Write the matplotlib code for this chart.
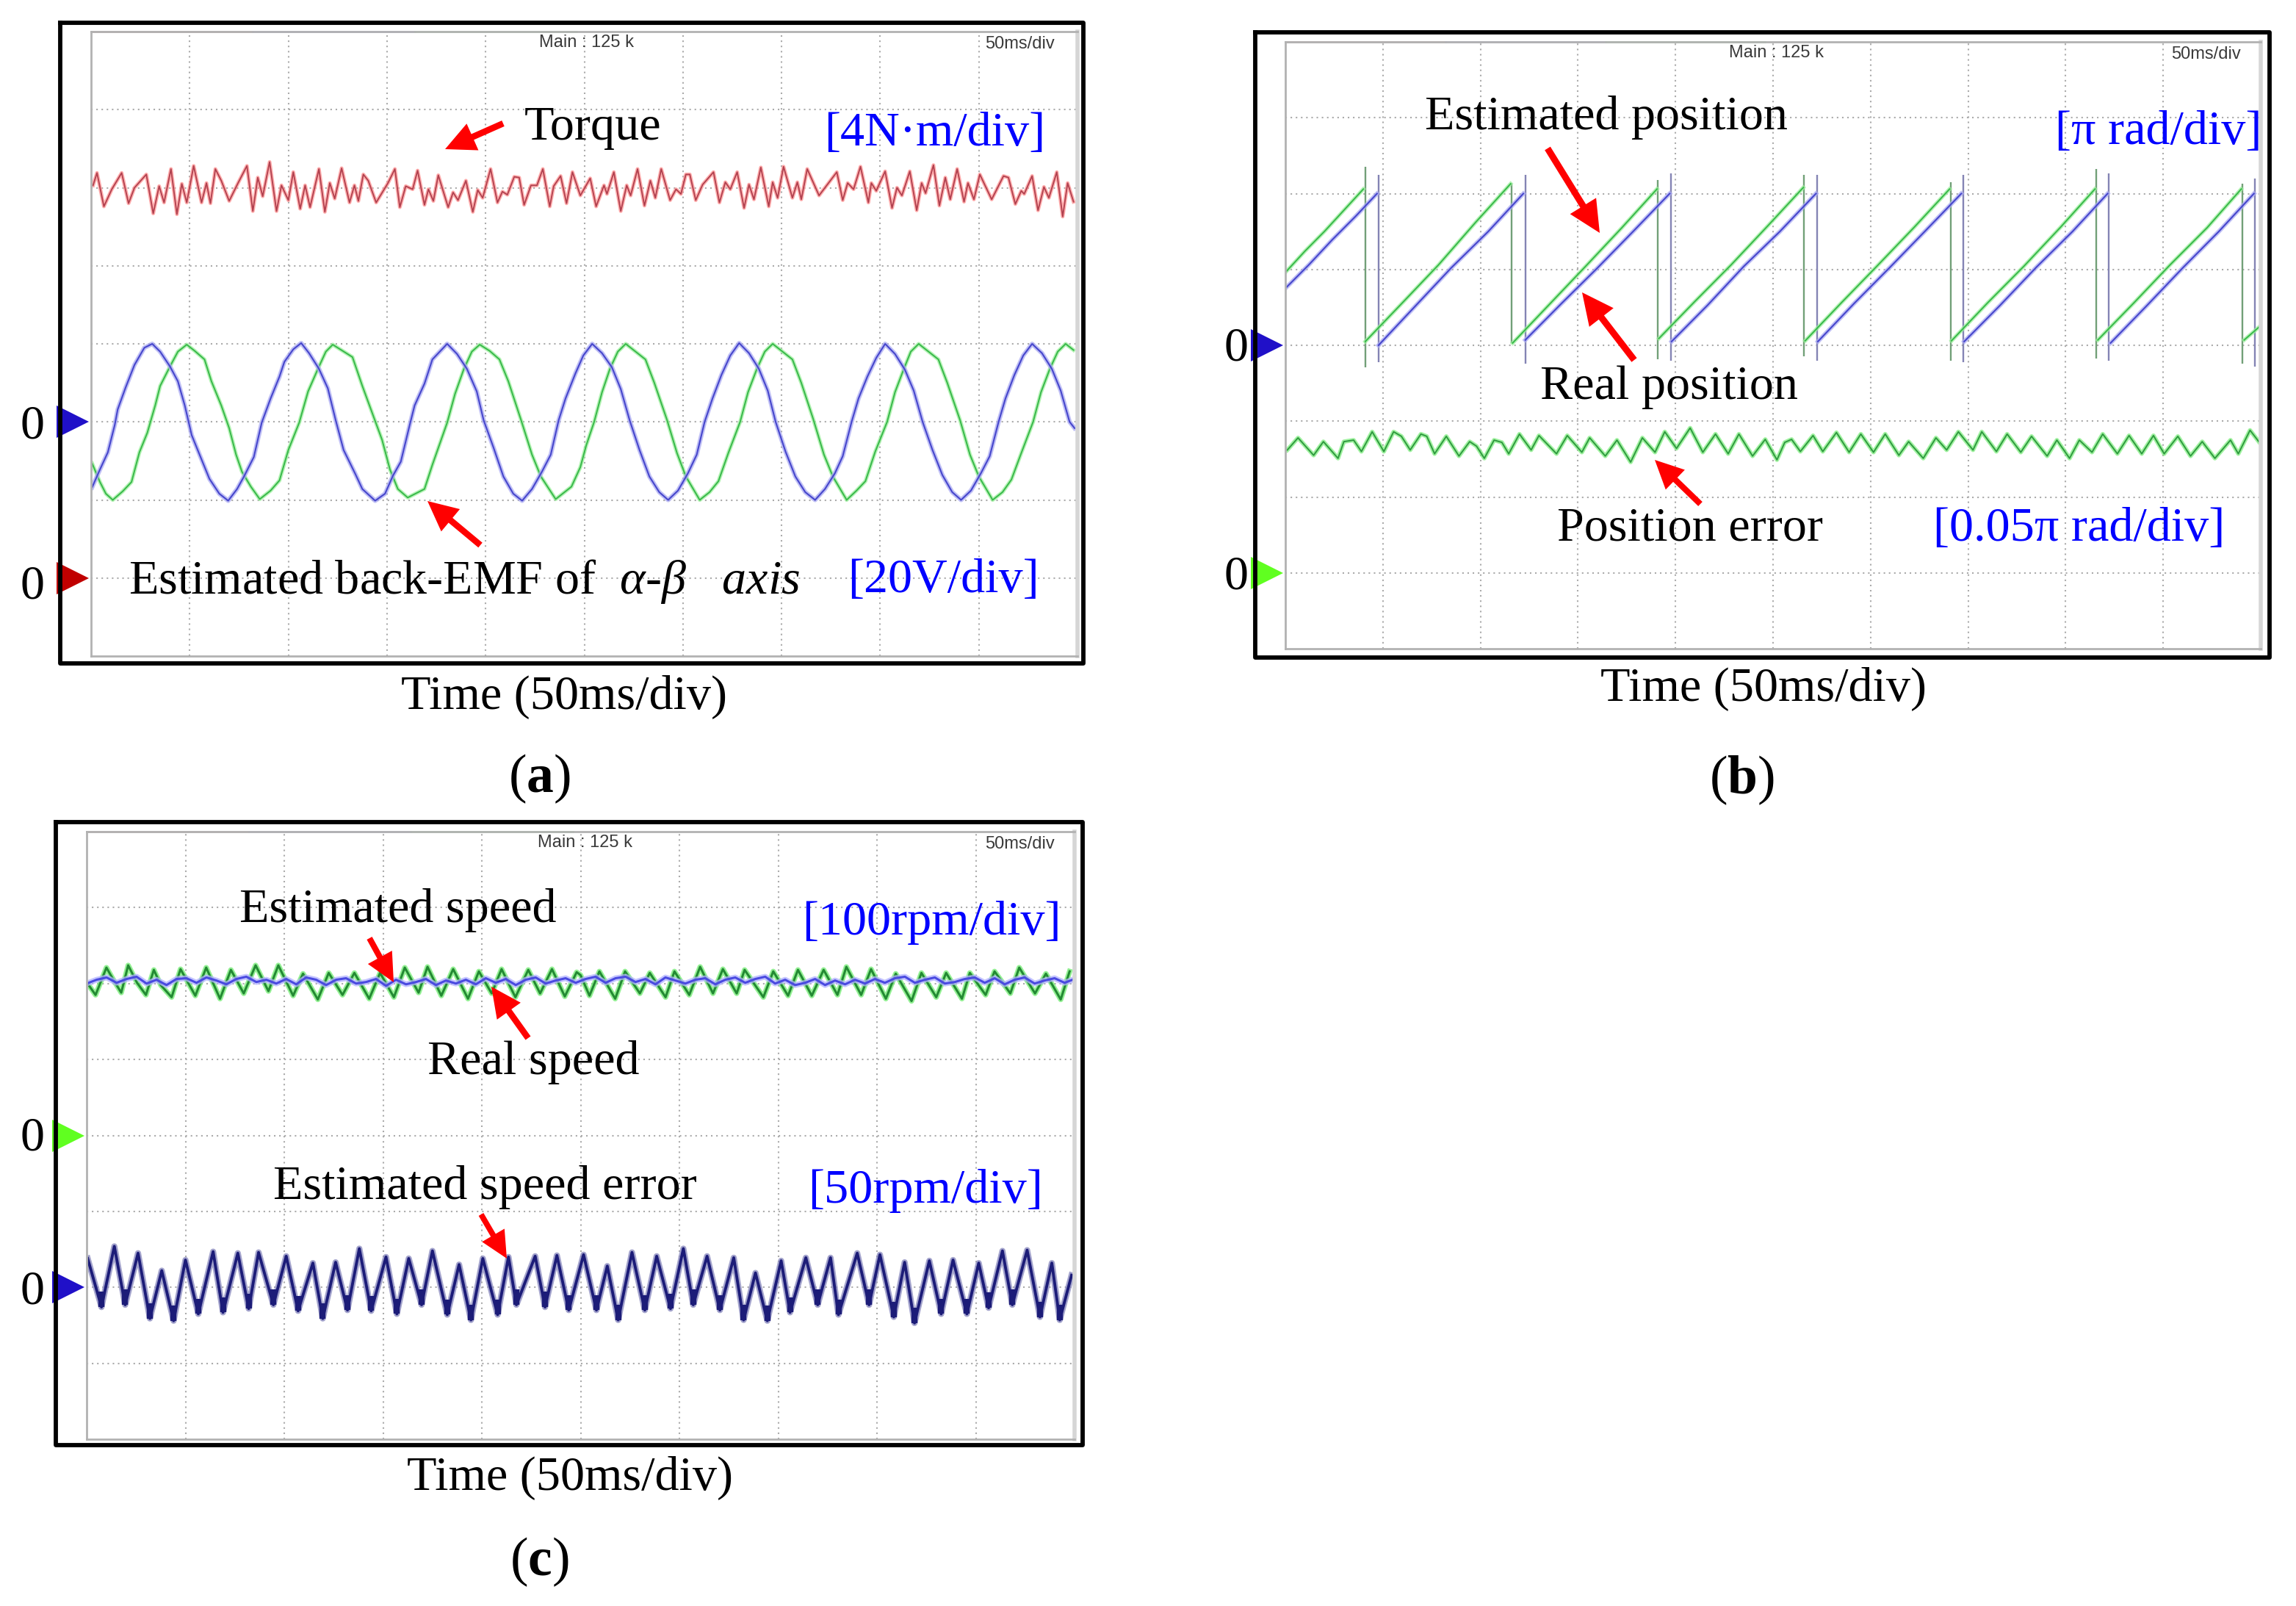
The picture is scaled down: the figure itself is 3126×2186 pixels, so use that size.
import numpy as np
import matplotlib
matplotlib.use('Agg')
import matplotlib.pyplot as plt

plt.rcParams['font.family'] = ['Liberation Serif', 'DejaVu Serif']
plt.rcParams['mathtext.fontset'] = 'custom'
plt.rcParams['mathtext.rm'] = 'Liberation Serif'
plt.rcParams['mathtext.it'] = 'Liberation Serif:italic'
plt.rcParams['mathtext.bf'] = 'Liberation Serif:bold'

W, H = 3126, 2186

# all traces read off the scope screens: t and levels in divisions
# panel a - torque (offset from its level)
torque_level = 6.0
torque_t = [0.02, 0.06, 0.13, 0.21, 0.31, 0.38, 0.44, 0.56, 0.63, 0.69, 0.74, 0.81, 0.87, 0.92, 0.97, 1.04, 1.12, 1.17, 1.21, 1.26,
            1.32, 1.40, 1.49, 1.58, 1.64, 1.69, 1.74, 1.81, 1.88, 1.93, 2.00, 2.05, 2.12, 2.17, 2.22, 2.31, 2.37, 2.42, 2.47, 2.54,
            2.62, 2.67, 2.71, 2.76, 2.81, 2.89, 3.01, 3.08, 3.13, 3.19, 3.26, 3.31, 3.38, 3.42, 3.47, 3.52, 3.62, 3.67, 3.72, 3.80,
            3.87, 3.92, 3.97, 4.05, 4.12, 4.17, 4.22, 4.29, 4.34, 4.39, 4.46, 4.52, 4.58, 4.65, 4.69, 4.76, 4.82, 4.88, 4.96,
            5.06, 5.12, 5.20, 5.23, 5.30, 5.37, 5.43, 5.47, 5.54, 5.61, 5.67, 5.72, 5.78, 5.87, 5.93, 5.98, 6.03, 6.07, 6.13, 6.20,
            6.31, 6.37, 6.43, 6.48, 6.55, 6.62, 6.67, 6.72, 6.79, 6.87, 6.91, 6.96, 7.02, 7.11, 7.16, 7.20, 7.26, 7.38, 7.44, 7.56,
            7.62, 7.67, 7.73, 7.80, 7.88, 7.91, 7.96, 8.05, 8.12, 8.17, 8.22, 8.30, 8.37, 8.42, 8.46, 8.54, 8.60, 8.66, 8.71, 8.78,
            8.85, 8.89, 8.95, 9.01, 9.13, 9.17, 9.25, 9.30, 9.37, 9.43, 9.46, 9.54, 9.60, 9.66, 9.71, 9.79, 9.85, 9.90, 9.96]
torque_v = [.03, .19, -.24, -.02, .19, -.20, 0, .17, -.33, .02, -.19, .24, -.34, .05, -.19, .28, -.19, .06, -.20, .24,
            .09, -.17, .06, .28, -.30, .13, -.11, .33, -.30, .03, -.16, .20, -.27, .03, -.25, .24, -.31, .06, -.14, .25,
            -.19, .03, -.17, .17, .09, -.19, .06, .24, -.25, .02, -.02, .22, -.22, -.02, -.17, .16, -.25, -.06, -.16, .09,
            -.31, -.03, -.13, .24, -.19, -.05, -.09, .14, .13, -.22, .03, .03, .24, -.24, .02, .15, -.20, .20, -.10,
            .12, -.24, .03, -.08, .20, -.30, .03, -.10, .24, -.23, .09, -.13, .24, -.16, -.02, -.08, .17, .17, -.16, .04,
            .20, -.19, .07, -.02, .20, -.26, .04, -.15, .26, -.24, .07, -.13, .27, -.13, .07, -.15, .24, -.10, 0, .20,
            -.16, .06, -.02, .27, -.19, .06, -.04, .21, -.26, 0, -.10, .21, -.29, .06, -.07, .29, -.23, .13, -.15, .24,
            -.18, .06, -.15, .17, -.15, -.05, .15, .13, -.21, -.04, -.08, .15, -.29, .01, -.13, .20, -.37, .06, -.18]

# panel a - back-EMF alpha / beta (offset from their zero at 3 div)
emf_level = 3.0
emf_a_t = [.01, .09, .17, .24, .27, .35, .44, .54, .62, .70, .80, .88, .95, 1.02, 1.10, 1.20, 1.30, 1.39, 1.48, 1.55,
           1.65, 1.73, 1.82, 1.91, 1.96, 2.05, 2.13, 2.21, 2.31, 2.40, 2.48, 2.56, 2.68, 2.75, 2.88, 2.98, 3.06, 3.14, 3.23, 3.28,
           3.38, 3.46, 3.61, 3.71, 3.81, 3.91, 3.98, 4.08, 4.18, 4.28, 4.37, 4.47, 4.57, 4.66, 4.74, 4.81, 4.91, 4.99,
           5.08, 5.18, 5.28, 5.37, 5.46, 5.56, 5.66, 5.76, 5.85, 5.95, 6.05, 6.14, 6.22, 6.30, 6.39, 6.48, 6.57, 6.67, 6.77, 6.86,
           6.94, 7.04, 7.14, 7.24, 7.34, 7.44, 7.54, 7.62, 7.71, 7.78, 7.87, 7.96, 8.05, 8.15, 8.25, 8.34, 8.43, 8.53, 8.63, 8.73,
           8.82, 8.92, 9.02, 9.11, 9.20, 9.27, 9.36, 9.45, 9.54, 9.64, 9.74, 9.83, 9.92, 9.97]
emf_a_v = [-.84, -.61, -.39, -.04, .16, .44, .73, .95, 1.0, .90, .71, .52, .21, -.17, -.42, -.73, -.92, -1.01, -.86, -.70,
           -.45, -.01, .30, .58, .77, .93, 1.01, .88, .68, .43, .02, -.36, -.67, -.86, -1.01, -.92, -.69, -.51, -.04, .21,
           .49, .80, 1.0, .87, .68, .39, .02, -.33, -.70, -.92, -1.01, -.86, -.64, -.42, .02, .30, .62, .85,
           1.0, .88, .70, .42, .02, -.36, -.70, -.90, -1.0, -.88, -.66, -.42, 0, .30, .60, .85, 1.01, .88, .68, .40,
           0, -.38, -.70, -.90, -1.0, -.86, -.66, -.44, 0, .30, .58, .82, 1.0, .87, .67, .40, 0, -.36, -.68, -.90,
           -1.0, -.88, -.66, -.44, 0, .30, .60, .85, 1.0, .88, .68, .40, 0, -.08]
emf_b_t = [.01, .09, .15, .22, .32, .41, .49, .57, .65, .70, .80, .88, .97, 1.05, 1.15, 1.22, 1.32, 1.40, 1.47, 1.53,
           1.62, 1.71, 1.82, 1.91, 2.0, 2.11, 2.20, 2.30, 2.38, 2.45, 2.55, 2.65, 2.75, 2.86, 2.95, 3.03, 3.11, 3.21, 3.38, 3.46,
           3.61, 3.69, 3.78, 3.86, 3.94, 4.04, 4.14, 4.23, 4.36, 4.47, 4.56, 4.71, 4.87, 4.96, 5.02,
           5.10, 5.18, 5.26, 5.34, 5.42, 5.52, 5.62, 5.71, 5.84, 5.94, 6.03, 6.17, 6.27, 6.36, 6.46, 6.58, 6.66, 6.75, 6.83, 6.91,
           7.01, 7.11, 7.20, 7.32, 7.43, 7.52, 7.66, 7.76, 7.85, 7.95, 8.07, 8.15, 8.24, 8.31, 8.39, 8.49, 8.59, 8.68, 8.81, 8.91,
           9.0, 9.14, 9.24, 9.33, 9.43, 9.55, 9.63, 9.72, 9.80, 9.88, 9.96]
emf_b_v = [-.53, -.77, -.92, -1.0, -.89, -.77, -.39, -.14, .21, .46, .71, .90, .99, .91, .80, .52, .21, -.08, -.42, -.64,
           -.83, -.99, -.88, -.75, -.36, -.01, .39, .68, .90, .99, .91, .83, .46, .08, -.23, -.61, -.86, -.97, -.86, -.55,
           -.01, .36, .68, .90, .99, .91, .80, .52, .02, -.42, -.70, -.99, -.83, -.58, -.30,
           0, .38, .68, .90, 1.0, .90, .80, .50, .02, -.40, -.70, -1.0, -.90, -.76, -.40, 0, .38, .68, .90, 1.0,
           .90, .80, .50, .04, -.42, -.70, -1.0, -.88, -.76, -.38, 0, .38, .68, .90, 1.0, .90, .80, .50, .02, -.42,
           -.70, -1.0, -.90, -.74, -.40, 0, .38, .68, .90, 1.0, .92]

# panel b - sawtooth positions, nan splits the teeth
pos_real_t = [0, .24, .48, .72, .94, np.nan,
              .955, 1.32, 1.70, 2.08, 2.44, np.nan,
              2.46, 2.83, 3.20, 3.58, 3.94, np.nan,
              3.96, 4.33, 4.70, 5.07, 5.44, np.nan,
              5.46, 5.83, 6.20, 6.57, 6.93, np.nan,
              6.96, 7.33, 7.70, 8.07, 8.43, np.nan,
              8.46, 8.83, 9.20, 9.57, 9.93]
pos_real_v = [4.75, 5.06, 5.39, 5.70, 6.0, np.nan,
              4.0, 4.50, 5.02, 5.50, 6.0, np.nan,
              4.07, 4.55, 5.02, 5.52, 6.0, np.nan,
              4.05, 4.53, 5.04, 5.50, 6.0, np.nan,
              4.05, 4.55, 5.03, 5.52, 6.0, np.nan,
              4.05, 4.53, 5.03, 5.50, 6.0, np.nan,
              4.03, 4.52, 5.02, 5.50, 6.0]
pos_est_t = [0, .20, .40, .60, .80, np.nan,
             .82, 1.20, 1.57, 1.95, 2.31, np.nan,
             2.33, 2.70, 3.07, 3.45, 3.81, np.nan,
             3.83, 4.20, 4.57, 4.95, 5.31, np.nan,
             5.33, 5.70, 6.07, 6.45, 6.81, np.nan,
             6.83, 7.20, 7.57, 7.95, 8.30, np.nan,
             8.33, 8.70, 9.07, 9.45, 9.80, np.nan,
             9.83, 10.0]
pos_est_v = [4.96, 5.24, 5.50, 5.78, 6.06, np.nan,
             4.05, 4.56, 5.06, 5.62, 6.13, np.nan,
             4.03, 4.53, 5.03, 5.55, 6.06, np.nan,
             4.09, 4.58, 5.06, 5.58, 6.08, np.nan,
             4.06, 4.56, 5.05, 5.56, 6.06, np.nan,
             4.06, 4.56, 5.04, 5.56, 6.06, np.nan,
             4.07, 4.56, 5.06, 5.55, 6.06, np.nan,
             4.07, 4.26]

# panel b - reset spikes: time, top, bottom
spike_est_t = [.82, 2.32, 3.82, 5.32, 6.82, 8.31, 9.81]
spike_est_top = [6.35, 6.13, 6.18, 6.25, 6.15, 6.32, 6.13]
spike_est_bot = [3.71, 4.03, 3.82, 3.85, 3.80, 3.83, 3.76]
spike_real_t = [.955, 2.46, 3.95, 5.45, 6.95, 8.44, 9.94]
spike_real_top = [6.25, 6.25, 6.27, 6.25, 6.25, 6.27, 6.20]
spike_real_bot = [3.78, 3.76, 3.80, 3.80, 3.78, 3.80, 3.72]

# panel b - position error
pos_err_level = 2.7
pos_err_t = [.02, .13, .29, .39, .54, .60, .70, .78, .89, 1.01, 1.11, 1.19, 1.28, 1.39, 1.45, 1.53, 1.65, 1.78, 1.89, 1.96,
             2.04, 2.14, 2.22, 2.29, 2.40, 2.52, 2.60, 2.78, 2.89, 3.04, 3.12, 3.28, 3.40, 3.54, 3.66, 3.79, 3.89, 4.01, 4.15, 4.28,
             4.41, 4.54, 4.65, 4.79, 4.92, 5.04, 5.12, 5.19, 5.28, 5.41, 5.51, 5.65, 5.78, 5.90, 6.03, 6.15, 6.29, 6.39, 6.54, 6.67,
             6.78, 6.90, 7.05, 7.14, 7.29, 7.40, 7.54, 7.65, 7.81, 7.91, 8.04, 8.14, 8.27, 8.38, 8.53, 8.65, 8.78, 8.90, 9.01, 9.15,
             9.28, 9.40, 9.53, 9.69, 9.77, 9.89, 9.98]
pos_err_v = [-.08, .08, -.15, .03, -.19, .03, .05, -.10, .16, -.10, .16, .10, -.08, .13, .10, -.13, .10, -.16, .03, -.03,
             -.19, .05, .02, -.13, .13, -.08, .11, -.13, .11, -.11, .08, -.16, .05, -.24, .08, -.11, .16, -.06, .21, -.11,
             .13, -.13, .13, -.16, .06, -.21, .02, .06, -.10, .11, -.10, .15, -.11, .13, -.11, .13, -.15, .03, -.19, .08,
             -.08, .16, -.08, .16, -.10, .13, -.11, .10, -.16, .05, -.19, .05, -.11, .13, -.13, .11, -.13, .11, -.13, .10,
             -.16, .03, -.19, .05, -.13, .18, .03]

# panel c - estimated and real speed
speed_level = 6.03
speed_est_t = [.02, .09, .20, .27, .35, .42, .51, .60, .68, .75, .86, .95, 1.10, 1.21, 1.35, 1.46, 1.59, 1.71, 1.84, 1.94,
               2.09, 2.19, 2.34, 2.45, 2.59, 2.71, 2.86, 2.97, 3.11, 3.22, 3.36, 3.45, 3.59, 3.71, 3.86, 3.97, 4.10, 4.20, 4.34, 4.47,
               4.59, 4.71, 4.84, 4.96, 5.0, 5.09, 5.19, 5.35, 5.45, 5.60, 5.70, 5.86, 5.95, 6.10, 6.21, 6.34, 6.44, 6.58, 6.66, 6.85,
               6.95, 7.10, 7.20, 7.34, 7.46, 7.60, 7.69, 7.84, 7.94, 8.09, 8.19, 8.35, 8.45, 8.60, 8.70, 8.86, 8.94, 9.10, 9.19, 9.35,
               9.44, 9.60, 9.71, 9.86, 9.95]
speed_est_v = [-.05, -.18, .18, .02, -.15, .21, -.02, -.18, .15, -.05, -.21, .16, -.19, .18, -.23, .15, -.16, .21, -.13, .21,
               -.19, .10, -.24, .11, -.18, .11, -.23, .11, -.21, .18, -.15, .19, -.19, .16, -.23, .13, -.16, .16, -.21, .15,
               -.16, .16, -.20, .12, .08, -.19, .13, -.23, .13, -.16, .11, -.21, .13, -.18, .19, -.16, .16, -.16, .15, -.21,
               .13, -.19, .15, -.19, .15, -.18, .19, -.18, .16, -.23, .10, -.26, .11, -.21, .11, -.23, .11, -.18, .13, -.16,
               .18, -.16, .10, -.24, .13]
speed_real_v = [-.03, .02, .05, -.02, .03, .06, -.03, .02, -.05, .03, .04, -.02, .05, .01, -.04, .03, .06, -.01, .02, -.03,
                .03, -.04, .05, .02, -.05, .02, .04, -.03, -.01, .03, -.06, .02, -.04, -.01, .03, -.05, .01, -.03, .02, -.04,
                .04, -.02, .03, -.05, .02, .05, -.03, .01, .04, -.02, .03, .06, -.02, .04, .06, -.01, .03, -.04, .05, .01,
                -.03, .02, .04, -.04, .02, .05, -.02, .03, .06, -.03, .02, -.05, -.02, .03, -.05, .01, -.04, .02, -.03, .03,
                -.02, .04, .06, -.02, .02, .05, -.03, -.01, .03, .05, -.02, .04, -.04, .02, .05, -.03, .01, .04, -.02, .03]

# panel c - estimated speed error
speed_err_level = 2.0
speed_err_t = [.01, .15, .28, .39, .52, .64, .76, .88, 1.0, 1.13, 1.28, 1.38, 1.53, 1.64, 1.74, 1.89, 2.02, 2.14, 2.29, 2.39,
               2.52, 2.64, 2.76, 2.88, 3.03, 3.14, 3.26, 3.39, 3.50, 3.65, 3.77, 3.89, 4.01, 4.16, 4.27, 4.35, 4.54, 4.64, 4.76, 4.88,
               5.03, 5.16, 5.27, 5.38, 5.52, 5.65, 5.77, 5.91, 6.04, 6.14, 6.28, 6.41, 6.55, 6.65, 6.77, 6.89, 7.03, 7.12, 7.28, 7.40,
               7.53, 7.61, 7.80, 7.92, 8.03, 8.17, 8.28, 8.38, 8.53, 8.65, 8.77, 8.91, 9.03, 9.13, 9.27, 9.37, 9.52, 9.65, 9.77, 9.85, 9.97]
speed_err_v = [.38, -.26, .54, -.23, .45, -.41, .22, -.44, .36, -.35, .47, -.33, .45, -.28, .46, -.23, .41, -.31, .32, -.41,
               .33, -.30, .51, -.31, .40, -.35, .38, -.23, .48, -.36, .30, -.43, .38, -.36, .40, -.23, .41, -.26, .42, -.30,
               .43, -.30, .28, -.43, .46, -.30, .41, -.28, .51, -.23, .41, -.30, .39, -.43, .19, -.44, .35, -.33, .39, -.23,
               .39, -.36, .45, -.23, .43, -.39, .33, -.47, .35, -.35, .36, -.35, .32, -.27, .48, -.23, .49, -.39, .32, -.43, .16]

# zero markers per panel: level in div, colour
zero_a = [(3.0, '#2010c8'), (1.0, '#c00000')]
zero_b = [(4.0, '#2010c8'), (1.0, '#60ff20')]
zero_c = [(4.0, '#60ff20'), (2.0, '#2010c8')]

# screen rectangles in pixels: left, top, right, bottom
screen_a = (124, 43, 1467, 893)
screen_b = (1750, 57, 3078, 883)
screen_c = (118, 1132, 1463, 1959)
frame_a = (82, 31, 1475, 903)
frame_b = (1709, 44, 3090, 895)
frame_c = (76, 1119, 1474, 1967)


def scope(rect, zeros):
    l, t, r, b = rect
    ax = fig.add_axes([l / W, 1 - b / H, (r - l) / W, (b - t) / H])
    ax.set_xlim(0, 10)
    ax.set_ylim(0, 8)
    ax.set_xticks(range(1, 10))
    ax.set_yticks(range(1, 8))
    ax.tick_params(length=0, labelbottom=False, labelleft=False)
    ax.grid(True, color='#ababab', linewidth=1.5, linestyle=(0, (1, 2.4)))
    ax.set_axisbelow(True)
    for side in ['left', 'top', 'bottom']:
        ax.spines[side].set_color('#b2b2b2')
        ax.spines[side].set_linewidth(2)
    ax.spines['right'].set_color('#d6d6d6')
    ax.spines['right'].set_linewidth(4)
    # channel strip along the top edge
    ax.plot([0, 1.64], [8, 8], color='#d09a9a', lw=1.8, clip_on=False)
    ax.plot([1.64, 3.28], [8, 8], color='#9c9ce6', lw=1.8, clip_on=False)
    ax.plot([3.28, 4.92], [8, 8], color='#90dc90', lw=1.8, clip_on=False)
    for level, colour in zeros:
        ax.plot([-0.185], [level], '>', color=colour, ms=31, mew=0, clip_on=False)
    return ax


def trace(ax, t, v, core, halo, lw=1.5, halo_lw=4.0, halo_alpha=0.75):
    ax.plot(t, v, color=halo, lw=halo_lw, alpha=halo_alpha, solid_joinstyle='round')
    ax.plot(t, v, color=core, lw=lw, solid_joinstyle='round')


fig = plt.figure(figsize=(W / 100, H / 100), dpi=100, facecolor='white')

ax_a = scope(screen_a, zero_a)
trace(ax_a, torque_t, torque_level + np.array(torque_v), '#b0404e', '#ff9090', 1.3, 3.6)
trace(ax_a, emf_b_t, emf_level + np.array(emf_b_v), '#38b84a', '#9cf09c', 1.4, 3.8)
trace(ax_a, emf_a_t, emf_level + np.array(emf_a_v), '#4646cc', '#aaaaf2', 1.5, 4.4)

ax_b = scope(screen_b, zero_b)
ax_b.vlines(spike_est_t, spike_est_bot, spike_est_top, color='#72a078', lw=1.7)
ax_b.vlines(spike_real_t, spike_real_bot, spike_real_top, color='#8484b4', lw=1.7)
trace(ax_b, pos_est_t, pos_est_v, '#38b84a', '#9cf09c', 1.4, 3.8)
trace(ax_b, pos_real_t, pos_real_v, '#4646cc', '#aaaaf2', 1.5, 4.2)
trace(ax_b, pos_err_t, pos_err_level + np.array(pos_err_v), '#2f9a3f', '#80ee80', 1.4, 4.2)

ax_c = scope(screen_c, zero_c)
trace(ax_c, speed_est_t, speed_level + np.array(speed_est_v), '#238a33', '#70ec70', 2.2, 5.2)
trace(ax_c, np.linspace(0, 10, len(speed_real_v)), speed_level + np.array(speed_real_v), '#4a4ae0', '#b0b0ff', 2.2, 5.6)
err_y = speed_err_level + np.array(speed_err_v)
trace(ax_c, speed_err_t, err_y, '#1c1c78', '#8c8cc0', 2.8, 6.0, 0.8)
# troughs of the error trace are a dense blob on the scope
err_low = err_y < speed_err_level
ax_c.vlines(np.array(speed_err_t)[err_low], err_y[err_low], err_y[err_low] + 0.2, color='#1c1c78', lw=6)

# overlay in pixel coordinates for frames, labels and arrows
over = fig.add_axes([0, 0, 1, 1], zorder=5)
over.set_xlim(0, W)
over.set_ylim(H, 0)
over.axis('off')
over.patch.set_alpha(0)

for l, t, r, b in [frame_a, frame_b, frame_c]:
    over.plot([l, r, r, l, l], [t, t, b, b, t], color='black', lw=4.2, solid_joinstyle='round')

BLUE = '#0000ff'
FS = 47.6
labels = [
    # panel a
    (714, 174, 'Torque', 'left', 'black'), (1122, 182, '[4N·m/div]', 'left', BLUE),
    (175, 792, r'Estimated back-EMF of  $\alpha$-$\beta$   $axis$', 'left', 'black'),
    (1154, 790, '[20V/div]', 'left', BLUE), (768, 949, 'Time (50ms/div)', 'center', 'black'),
    (44, 581, '0', 'center', 'black'), (44, 799, '0', 'center', 'black'),
    # panel b
    (1940, 160, 'Estimated position', 'left', 'black'), (2798, 180, '[π rad/div]', 'left', BLUE),
    (2097, 527, 'Real position', 'left', 'black'), (2120, 720, 'Position error', 'left', 'black'),
    (2632, 720, '[0.05π rad/div]', 'left', BLUE), (2401, 938, 'Time (50ms/div)', 'center', 'black'),
    (1683, 475, '0', 'center', 'black'), (1683, 786, '0', 'center', 'black'),
    # panel c
    (326, 1239, 'Estimated speed', 'left', 'black'), (1092, 1256, '[100rpm/div]', 'left', BLUE),
    (582, 1446, 'Real speed', 'left', 'black'), (372, 1616, 'Estimated speed error', 'left', 'black'),
    (1100, 1621, '[50rpm/div]', 'left', BLUE), (776, 2012, 'Time (50ms/div)', 'center', 'black'),
    (44, 1550, '0', 'center', 'black'), (44, 1759, '0', 'center', 'black'),
]
for x, y, s, ha, colour in labels:
    over.text(x, y, s, ha=ha, va='center', fontsize=FS, color=colour)

# sub captions
captions = [(734, 1060, r'($\mathbf{a}$)'), (2371, 1062, r'($\mathbf{b}$)'), (734, 2126, r'($\mathbf{c}$)')]
for x, y, s in captions:
    over.text(x, y, s, ha='center', va='center', fontsize=53, color='black')

# instrument readouts on the screens
readouts = [(798, 58, 'Main : 125 k'), (1388, 60, '50ms/div'), (2419, 72, 'Main : 125 k'), (3003, 74, '50ms/div'),
            (796, 1147, 'Main : 125 k'), (1388, 1149, '50ms/div')]
for x, y, s in readouts:
    over.text(x, y, s, ha='center', va='center', fontsize=17, color='#3a3a3a', family='Liberation Sans')

# tail x, tail y, tip x, tip y, head size scale
arrows = [(685, 168, 606, 203, 0.95), (654, 742, 582, 682, 0.95), (2107, 202, 2178, 317, 1.0), (2225, 490, 2154, 398, 1.0),
          (2315, 686, 2253, 626, 0.9), (503, 1277, 536, 1337, 0.9), (719, 1413, 669, 1343, 0.95), (655, 1653, 690, 1713, 0.85)]
for x0, y0, x1, y1, k in arrows:
    over.annotate('', xy=(x1, y1), xytext=(x0, y0),
                  arrowprops=dict(facecolor='#ff0000', edgecolor='#ff0000', linewidth=0, width=6.5 * k,
                                  headwidth=30 * k, headlength=31 * k, shrink=0))

fig.savefig('out.png', dpi=100)
